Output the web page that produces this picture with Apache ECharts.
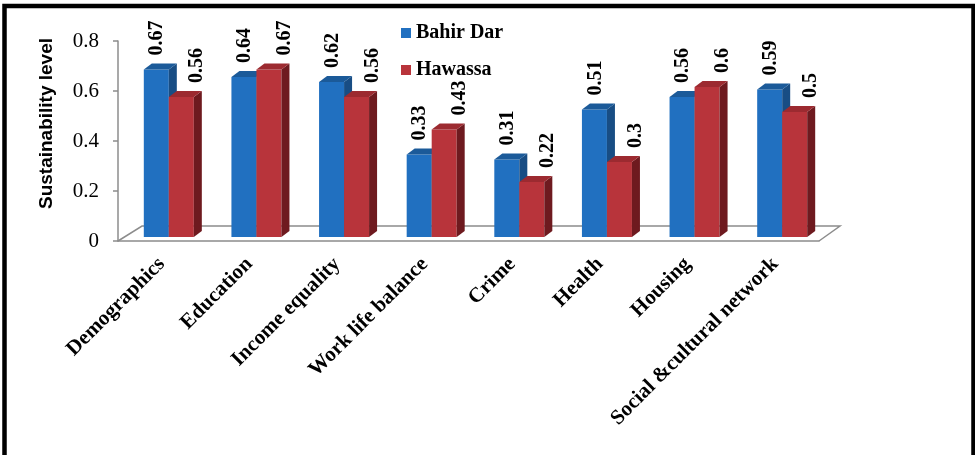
<!DOCTYPE html>
<html>
<head>
<meta charset="utf-8">
<script src="https://cdn.jsdelivr.net/npm/echarts@6/dist/echarts.min.js"></script>
<style>
html,body{margin:0;padding:0;background:#fff;}
#chart{width:975px;height:455px;}
</style>
</head>
<body>
<div id="chart"></div>
<script>
const categories = ['Demographics', 'Education', 'Income equality', 'Work life balance', 'Crime', 'Health', 'Housing', 'Social &cultural network'];
const bahirDar = [0.67, 0.64, 0.62, 0.33, 0.31, 0.51, 0.56, 0.59];
const hawassa = [0.56, 0.67, 0.56, 0.43, 0.22, 0.30, 0.60, 0.50];
const seriesNames = ['Bahir Dar', 'Hawassa'];
const yTicks = { min: 0, max: 0.8, interval: 0.2 };

const chart = echarts.init(document.getElementById('chart'));

const DX = 8, DY = -6, LIFT = 4;

function barRenderer(seriesIdx, front, top, side, labelDx) {
  return function (params, api) {
    const cat = api.value(0), val = api.value(1);
    const base = api.coord([cat, 0]);
    const tp = api.coord([cat, val]);
    const catW = api.size([1, 0])[0];
    const bw = catW * 25 / 87.6;
    const shift = catW * 7 / 87.6;
    const x0 = base[0] + shift - bw + seriesIdx * bw;
    const x1 = x0 + bw;
    const yb = base[1] - LIFT, yt = tp[1] - LIFT;
    return {
      type: 'group',
      children: [
        { type: 'rect', shape: { x: x0, y: yt, width: bw, height: yb - yt }, style: { fill: front } },
        { type: 'polygon', shape: { points: [[x1, yt], [x1 + DX, yt + DY], [x1 + DX, yb + DY], [x1, yb]] }, style: { fill: side } },
        { type: 'polygon', shape: { points: [[x0, yt], [x0 + DX, yt + DY], [x1 + DX, yt + DY], [x1, yt]] }, style: { fill: top } },
        {
          type: 'text', x: x0 + bw / 2 + labelDx, y: yt + DY - 8, rotation: Math.PI / 2,
          style: {
            text: String(val), fill: '#000', fontFamily: 'Liberation Serif', fontWeight: 'bold', fontSize: 20,
            align: 'left', verticalAlign: 'middle'
          }
        }
      ]
    };
  };
}

function floorRenderer(params, api) {
  const c0 = api.coord([0, 0]);
  const c7 = api.coord([categories.length - 1, 0]);
  const catW = api.size([1, 0])[0];
  const left = c0[0] - catW / 2, right = c7[0] + catW / 2, y = c0[1];
  return {
    type: 'polyline',
    shape: { points: [[left, y], [left + 24, y - 15], [right + 21, y - 15], [right, y]] },
    style: { stroke: '#8c8c8c', lineWidth: 1.5, fill: null }
  };
}

const option = {
  backgroundColor: '#ffffff',
  animation: false,
  graphic: [{
    type: 'rect', shape: { x: 4.5, y: 6, width: 969, height: 600 },
    style: { fill: null, stroke: '#000', lineWidth: 4.5 }, silent: true, z: 100
  }],
  legend: {
    data: seriesNames, orient: 'vertical', left: 396, top: 18, icon: 'rect',
    itemWidth: 10, itemHeight: 10, itemGap: 17,
    textStyle: { fontFamily: 'Liberation Serif', fontWeight: 'bold', fontSize: 20, color: '#000' }
  },
  grid: { left: 118, top: 41, width: 701, height: 200 },
  xAxis: {
    type: 'category', data: categories,
    axisLine: { lineStyle: { color: '#8c8c8c', width: 1.5 } },
    axisTick: { length: 5, lineStyle: { color: '#8c8c8c', width: 1.5 } },
    axisLabel: {
      rotate: 45, interval: 0, margin: 20, padding: [26, 0, 0, 0],
      fontFamily: 'Liberation Serif', fontWeight: 'bold', fontSize: 21, color: '#000'
    }
  },
  yAxis: {
    type: 'value', min: yTicks.min, max: yTicks.max, interval: yTicks.interval,
    name: 'Sustainability level', nameLocation: 'middle', nameGap: 62,
    nameTextStyle: { fontFamily: 'Liberation Sans', fontWeight: 'bold', fontSize: 19, color: '#000', padding: [0, 0, 0, 35] },
    axisLine: { show: true, lineStyle: { color: '#8c8c8c', width: 1.5 } },
    axisTick: { show: true, length: 5, lineStyle: { color: '#8c8c8c', width: 1.5 } },
    splitLine: { show: false },
    axisLabel: { margin: 19, fontFamily: 'Liberation Serif', fontSize: 21, color: '#000' }
  },
  series: [
    {
      type: 'custom', name: 'floor', silent: true, z: 1,
      renderItem: floorRenderer, data: [[0, 0]]
    },
    {
      type: 'custom', name: seriesNames[0], z: 2,
      itemStyle: { color: '#2170c0' },
      renderItem: barRenderer(0, '#2170c0', '#1b5a99', '#184d84', 1),
      data: bahirDar.map((v, i) => [i, v])
    },
    {
      type: 'custom', name: seriesNames[1], z: 3,
      itemStyle: { color: '#b8343b' },
      renderItem: barRenderer(1, '#b8343b', '#9c2a30', '#6e1a1f', 16),
      data: hawassa.map((v, i) => [i, v])
    }
  ]
};
chart.setOption(option);
</script>
</body>
</html>
